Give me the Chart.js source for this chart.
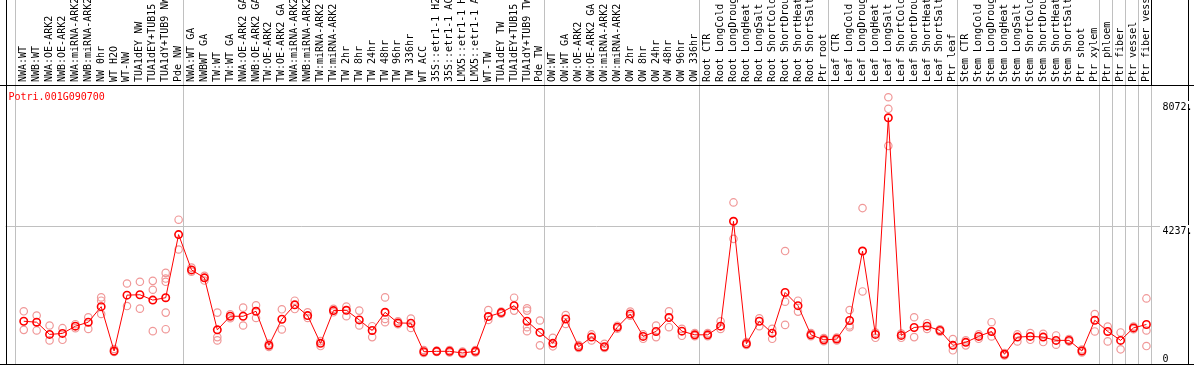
<!DOCTYPE html>
<html><head><meta charset="utf-8">
<script src="https://cdn.jsdelivr.net/npm/chart.js@4/dist/chart.umd.min.js"></script>
<style>html,body{margin:0;padding:0;background:#fff;overflow:hidden}canvas{display:block}</style>
</head><body>
<canvas id="c" width="1194" height="370"></canvas>
<script>
const geneId = 'Potri.001G090700';
const categories = [
 'NWA:WT','NWB:WT','NWA:OE-ARK2','NWB:OE-ARK2','NWA:miRNA-ARK2','NWB:miRNA-ARK2','NW 0hr','WT H2O','WT-NW','TUA1dEY NW','TUA1dEY+TUB15 NW','TUA1dY+TUB9 NW','Pde NW',
 'NWA:WT GA','NWBWT GA','TW:WT','TW:WT GA','NWA:OE-ARK2 GA','NWB:OE-ARK2 GA','TW:OE-ARK2','TW:OE-ARK2 GA','NWA:miRNA-ARK2 GA','NWB:miRNA-ARK2 GA','TW:miRNA-ARK2','TW:miRNA-ARK2 GA',
 'TW 2hr','TW 8hr','TW 24hr','TW 48hr','TW 96hr','TW 336hr',
 'WT ACC','35S::etr1-1 H2O','35S::etr1-1 ACC','LMX5::etr1-1 H2O','LMX5::etr1-1 ACC',
 'WT-TW','TUA1dEY TW','TUA1dEY+TUB15 TW','TUA1dY+TUB9 TW','Pde TW',
 'OW:WT','OW:WT GA','OW:OE-ARK2','OW:OE-ARK2 GA','OW:miRNA-ARK2','OW:miRNA-ARK2 GA',
 'OW 2hr','OW 8hr','OW 24hr','OW 48hr','OW 96hr','OW 336hr',
 'Root CTR','Root LongCold','Root LongDrought','Root LongHeat','Root LongSalt','Root ShortCold','Root ShortDrought','Root ShortHeat','Root ShortSalt','Ptr root',
 'Leaf CTR','Leaf LongCold','Leaf LongDrought','Leaf LongHeat','Leaf LongSalt','Leaf ShortCold','Leaf ShortDrought','Leaf ShortHeat','Leaf ShortSalt','Ptr leaf',
 'Stem CTR','Stem LongCold','Stem LongDrought','Stem LongHeat','Stem LongSalt','Stem ShortCold','Stem ShortDrought','Stem ShortHeat','Stem ShortSalt','Ptr shoot',
 'Ptr xylem','Ptr phloem','Ptr fiber','Ptr vessel','Ptr fiber vessel'
];
const means = [
 1326,1296,921,951,1174,1296,1774,412,2128,2140,1976,2049,3988,
 2902,2659,1061,1479,1479,1631,585,1387,1829,1500,646,1652,
 1662,1366,1043,1601,1274,1265,
 390,402,402,351,402,
 1470,1591,1805,1326,982,
 646,1396,543,838,543,1143,
 1549,860,1012,1439,1021,909,
 909,1174,4396,634,1326,960,2210,1805,909,756,
 777,1348,3482,921,7576,890,1134,1174,1043,585,
 677,860,1012,311,838,860,838,738,738,412,
 1357,1012,738,1122,1226
];
const replicates = [
 [1631,1061],[1500,1043],[1195,738],[1113,756],[1235,1113],[1448,1091],[2058,1957,1549],[473,381],[2485,1793],[2537,1713],[2567,2293,1021],[2811,2637,2537,1591,1082],[4445,3530],
 [2973,2851],[2720,2576],[1591,838,738],[1540,1418],[1744,1195],[1814,1427],[640,534],[1692,1073],[1957,1701],[1601,1427],[716,564],[1707,1601],
 [1774,1479],[1652,1195],[1174,838],[2058,1396,1296],[1326,1235],[1409,1122],
 [442,351],[427,381],[442,366],[396,320],[442,366],
 [1671,1366],[1622,1555],[2049,1652],[1723,1652,1143,1021],[1348,585],
 [817,555],[1518,1244],[595,503],[921,738],[634,503],[1189,1098],
 [1622,1494],[921,787],[1195,838],[1631,1143],[1091,878],[960,869],
 [960,869],[1326,1091],[4976,3857],[686,595],[1418,1174],[1091,787],[3482,1927,1213],[1957,1622],[960,869],[808,716],
 [823,732],[1671,1195,1143],[4802,2241],[976,817],[8207,7851,6713],[945,817],[1448,838],[1265,1091],[1082,1006],[777,433],
 [738,585],[921,787],[1296,860],[351,274],[921,707],[960,756],[939,686],[890,604],[777,701],[457,366],
 [1549,1012],[1165,707],[982,463],[1165,1082],[2027,1043,564]
];
const yTicks = [0, 4237, 8072];
const yTickLabels = ['0', '4237.', '8072.'];
const groupEnds = [0, 13, 41, 53, 63, 73, 84, 85, 86, 87, 88];

const Y_MAX = 8583;
const X_MIN = -0.4072, X_MAX = 91.253;
const LABEL_SHIFT = 0.9228;
const BOUND_SHIFT = 0.385;
const FAMILY = '"DejaVu Sans Mono", "Liberation Mono", monospace';
const FONT = '10px ' + FAMILY;
const GRID = '#c0c0c0';

const meanData = means.map((v, i) => ({x: i + 1, y: v}));
const repData = [];
replicates.forEach((arr, i) => arr.forEach(v => repData.push({x: i + 1, y: v})));

const framePlugin = {
  id: 'frame',
  afterDraw(chart) {
    const c = chart.ctx, xs = chart.scales.x, ys = chart.scales.y, a = chart.chartArea;
    c.save();
    groupEnds.forEach((k, j) => {
      const px = Math.round(xs.getPixelForValue(k + BOUND_SHIFT) - 0.5);
      c.fillStyle = j === groupEnds.length - 1 ? '#000' : GRID;
      c.fillRect(px, 0, 1, Math.round(a.top));
    });
    c.fillStyle = '#000';
    c.fillRect(0, Math.round(a.top), chart.width, 1);
    c.fillRect(Math.round(a.left), 0, 1, Math.round(a.bottom) + 1);
    c.fillRect(Math.round(a.right), 0, 1, Math.round(a.bottom) + 1);
    c.fillRect(0, Math.round(a.bottom), chart.width, 1);
    c.font = FONT;
    c.textAlign = 'left';
    c.textBaseline = 'alphabetic';
    yTicks.forEach((v, i) => {
      const py = ys.getPixelForValue(v);
      if (i === 0) {
        c.fillStyle = '#000';
        c.fillText(yTickLabels[i], 1162.5, py - 2);
      } else {
        c.fillStyle = '#fff';
        c.fillRect(1160, Math.round(py) - 1, 32, 3);
        c.fillStyle = '#000';
        c.fillText(yTickLabels[i], 1162.5, py + 8);
      }
    });
    c.fillStyle = '#ff0000';
    c.fillText(geneId, 8.5, Math.round(a.top) + 15);
    c.restore();
  }
};

new Chart(document.getElementById('c').getContext('2d'), {
  type: 'line',
  data: {
    datasets: [
      {label: 'mean', data: meanData, borderColor: '#ff0000', borderWidth: 1, tension: 0,
       pointRadius: 3.7, pointBorderWidth: 1.6, pointBorderColor: '#ff0000', pointBackgroundColor: 'rgba(255,255,255,0)', order: 0},
      {label: 'replicates', data: repData, showLine: false,
       pointRadius: 3.7, pointBorderWidth: 1.2, pointBorderColor: '#f09898', pointBackgroundColor: 'rgba(255,255,255,0)', order: 1}
    ]
  },
  options: {
    responsive: false, animation: false, devicePixelRatio: 1, events: [],
    layout: {padding: {left: 1, right: 1, top: 0, bottom: 2}},
    plugins: {legend: {display: false}, tooltip: {enabled: false}, title: {display: false}},
    scales: {
      x: {type: 'linear', position: 'bottom', min: X_MIN, max: X_MAX,
          afterBuildTicks: s => { s.ticks = groupEnds.map(k => ({value: k + BOUND_SHIFT})); },
          ticks: {display: false}, grid: {color: GRID, lineWidth: 1, drawTicks: false}, border: {display: false},
          afterFit: s => { s.height = 0; }},
      xTop: {type: 'linear', axis: 'x', position: 'top', min: X_MIN - LABEL_SHIFT, max: X_MAX - LABEL_SHIFT,
          afterBuildTicks: s => { s.ticks = categories.map((c, i) => ({value: i + 1})); },
          ticks: {autoSkip: false, minRotation: 90, maxRotation: 90, padding: 3, color: '#000',
                  font: {family: FAMILY, size: 10}, callback: (v, i) => categories[i]},
          grid: {display: false, drawTicks: false}, border: {display: false},
          afterFit: s => { s.height = 85; }},
      y: {type: 'linear', position: 'right', min: 0, max: Y_MAX,
          afterBuildTicks: s => { s.ticks = yTicks.map(v => ({value: v})); },
          ticks: {display: false},
          grid: {color: ctx => (ctx.index === 1 ? GRID : 'rgba(0,0,0,0)'), drawTicks: false}, border: {display: false},
          afterFit: s => { s.width = 0; }}
    }
  },
  plugins: [framePlugin]
});
</script>
</body></html>
